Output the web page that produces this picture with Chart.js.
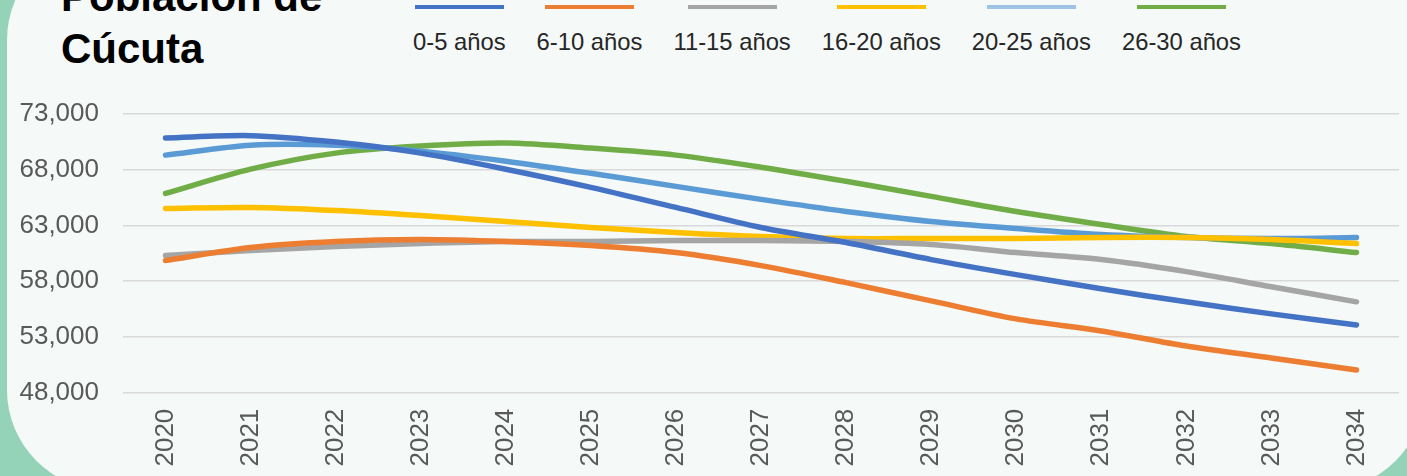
<!DOCTYPE html>
<html>
<head>
<meta charset="utf-8">
<script src="https://cdn.jsdelivr.net/npm/chart.js@4/dist/chart.umd.min.js"></script>
<style>
  html, body { margin: 0; padding: 0; }
  body {
    width: 1407px; height: 476px; overflow: hidden; position: relative;
    background: #94d3b8; font-family: "Liberation Sans", Arial, sans-serif;
  }
  #panel {
    position: absolute; left: 7px; top: -60px; width: 1418px; height: 550px;
    background: #f5f9f8; border-radius: 100px;
  }
  #title {
    position: absolute; left: 61px; top: -29px; margin: 0;
    font-size: 42px; font-weight: bold; line-height: 52px; color: #000;
  }
  #legend {
    position: absolute; left: 413px; top: 5px; display: flex; gap: 31px;
  }
  .item { display: flex; flex-direction: column; align-items: center; }
  .swatch { width: 89px; height: 4px; }
  .label { margin-top: 19px; font-size: 23.8px; line-height: 28px; color: #262626; white-space: nowrap; }
  #wrap { position: absolute; left: 0; top: 0; width: 1407px; height: 476px; }
</style>
</head>
<body>
<div id="panel"></div>
<h1 id="title">Población de<br>Cúcuta</h1>
<div id="legend"></div>
<div id="wrap"><canvas id="chart"></canvas></div>
<script>
const years = ["2020", "2021", "2022", "2023", "2024", "2025", "2026", "2027", "2028", "2029", "2030", "2031", "2032", "2033", "2034"];
const seriesNames = ["0-5 años", "6-10 años", "11-15 años", "16-20 años", "20-25 años", "26-30 años"];
const colors = ["#4472c4", "#ed7d31", "#a5a5a5", "#ffc000", "#5b9bd5", "#70ad47"];

const age0to5 = [70850, 71060, 70480, 69490, 68050, 66420, 64620, 62820, 61470, 59940, 58590, 57320, 56150, 55070, 54080];
const age6to10 = [59850, 61020, 61560, 61740, 61560, 61200, 60570, 59400, 57870, 56240, 54620, 53540, 52190, 51110, 50030];
const age11to15 = [60300, 60750, 61110, 61380, 61560, 61560, 61650, 61650, 61560, 61290, 60570, 59940, 58860, 57500, 56150];
const age16to20 = [64530, 64620, 64350, 63900, 63360, 62820, 62370, 62010, 61830, 61830, 61830, 61920, 61920, 61740, 61380];
const age20to25 = [69310, 70200, 70200, 69670, 68770, 67680, 66510, 65340, 64260, 63360, 62730, 62190, 61920, 61830, 61920];
const age26to30 = [65880, 68050, 69490, 70120, 70390, 69940, 69310, 68230, 66960, 65610, 64260, 63090, 62010, 61380, 60570];

const allSeries = [age0to5, age6to10, age11to15, age16to20, age20to25, age26to30];

// legend: line swatch over the label
const legend = document.getElementById("legend");
seriesNames.forEach((name, i) => {
    const item = document.createElement("div");
    item.className = "item";
    const sw = document.createElement("div");
    sw.className = "swatch";
    sw.style.background = i == 4 ? "#9dc3e6" : colors[i];
    const lb = document.createElement("div");
    lb.className = "label";
    lb.textContent = name;
    item.appendChild(sw);
    item.appendChild(lb);
    legend.appendChild(item);
});

const ctx = document.getElementById("chart").getContext("2d");
new Chart(ctx, {
    type: "line",
    data: {
        labels: years,
        datasets: allSeries.map((values, i) => ({
            label: seriesNames[i],
            data: values,
            borderColor: colors[i],
            backgroundColor: colors[i],
            borderWidth: 5.5,
            borderCapStyle: "round",
            borderJoinStyle: "round",
            pointRadius: 0,
            tension: 0.3,
            fill: false
        }))
    },
    options: {
        responsive: true,
        maintainAspectRatio: false,
        animation: false,
        layout: { padding: { left: 0, right: 8, top: 114, bottom: 0 } },
        plugins: { legend: { display: false }, tooltip: { enabled: false } },
        scales: {
            x: {
                offset: true,
                grid: { display: false, drawTicks: false },
                border: { display: false },
                ticks: {
                    color: "#595959",
                    font: { family: "Liberation Sans", size: 26 },
                    minRotation: 90, maxRotation: 90,
                    padding: 16
                },
                afterFit: (scale) => { scale.height = 476 - 392.7; }
            },
            y: {
                min: 48000, max: 73000,
                grid: { color: "#d9d9d9", lineWidth: 1.5, drawTicks: false },
                border: { display: false },
                ticks: {
                    stepSize: 5000,
                    color: "#595959",
                    font: { family: "Liberation Sans", size: 26 },
                    padding: 24,
                    callback: (v) => v.toLocaleString("en-US")
                },
                afterFit: (scale) => { scale.width = 123; }
            }
        }
    }
});
</script>
</body>
</html>
